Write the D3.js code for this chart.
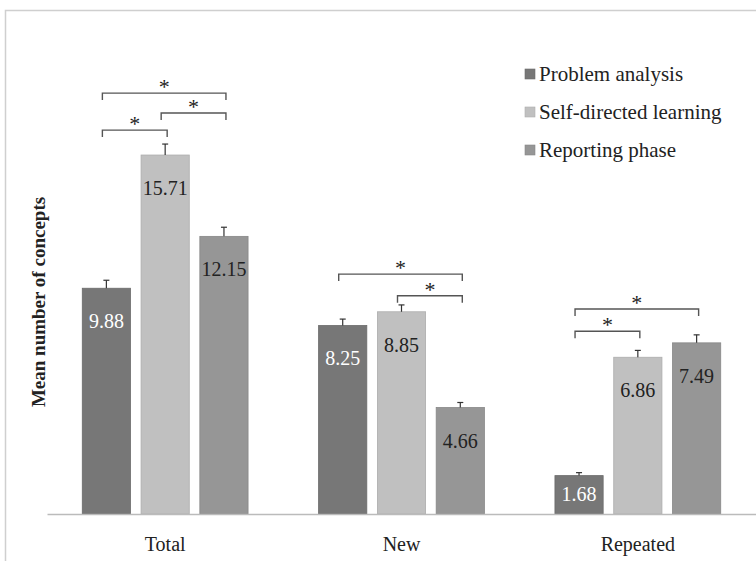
<!DOCTYPE html>
<html>
<head>
<meta charset="utf-8">
<script src="https://cdn.jsdelivr.net/npm/d3@7"></script>
<style>
  body { margin: 0; background: #fff; }
</style>
</head>
<body>
<div id="chart"></div>
<script>
// chart values
const categories = ['Total', 'New', 'Repeated'];
const series = ['Problem analysis', 'Self-directed learning', 'Reporting phase'];
const problemAnalysis = [9.88, 8.25, 1.68];
const selfDirected = [15.71, 8.85, 6.86];
const reporting = [12.15, 4.66, 7.49];
const errProblem = [0.35, 0.28, 0.13];
const errSelf = [0.48, 0.3, 0.3];
const errReporting = [0.4, 0.22, 0.35];

// significance brackets: group, from series, to series, height (in concepts)
const sigGroup = ['Total', 'Total', 'Total', 'New', 'New', 'Repeated', 'Repeated'];
const sigFrom = [0, 0, 1, 0, 1, 0, 0];
const sigTo = [2, 1, 2, 2, 2, 2, 1];
const sigLevel = [18.42, 16.8, 17.55, 10.5, 9.55, 8.97, 8.0];

const colors = ['#777777', '#c0c0c0', '#969696'];
const labelColors = ['#ffffff', '#222222', '#222222'];
const font = '"Liberation Serif", "Times New Roman", serif';

const values = [problemAnalysis, selfDirected, reporting];
const errors = [errProblem, errSelf, errReporting];

const data = [];
categories.forEach((c, i) => {
  series.forEach((s, j) => {
    data.push({ cat: c, s: s, si: j, value: values[j][i], err: errors[j][i] });
  });
});

const width = 756, height = 561;

const svg = d3.select('#chart')
  .append('svg')
  .attr('width', width)
  .attr('height', height)
  .attr('font-family', font)
  .style('display', 'block');

// frame (top and left edges are visible)
svg.append('path')
  .attr('d', `M5.5,${height} V10.5 H${width}`)
  .attr('fill', 'none')
  .attr('stroke', '#cfcfcf')
  .attr('stroke-width', 1.5);

const x0 = d3.scaleBand().domain(categories).range([47, 756]).paddingInner(0);
const x1 = d3.scaleBand().domain(series).range([0, x0.bandwidth()])
  .paddingInner(0.18).paddingOuter(0.6);
const y = d3.scaleLinear().domain([0, 20]).range([514, 57]);

// bars
svg.append('g')
  .selectAll('rect')
  .data(data)
  .enter()
  .append('rect')
  .attr('x', (d) => x0(d.cat) + x1(d.s))
  .attr('y', (d) => y(d.value))
  .attr('width', x1.bandwidth())
  .attr('height', (d) => y(0) - y(d.value))
  .attr('fill', (d) => colors[d.si])
  .attr('stroke', (d) => d3.color(colors[d.si]).darker(0.3))
  .attr('stroke-width', 0.8);

// error bars (upper only)
const eb = svg.append('g').attr('stroke', '#333').attr('stroke-width', 1.2);
data.forEach((d) => {
  const cx = x0(d.cat) + x1(d.s) + x1.bandwidth() / 2;
  eb.append('line')
    .attr('x1', cx).attr('x2', cx)
    .attr('y1', y(d.value)).attr('y2', y(d.value + d.err));
  eb.append('line')
    .attr('x1', cx - 3).attr('x2', cx + 3)
    .attr('y1', y(d.value + d.err)).attr('y2', y(d.value + d.err));
});

// value labels (inside end, kept inside short bars)
svg.append('g')
  .selectAll('text')
  .data(data)
  .enter()
  .append('text')
  .attr('x', (d) => x0(d.cat) + x1(d.s) + x1.bandwidth() / 2)
  .attr('y', (d) => Math.min(y(d.value) + 40, y(0) - 13))
  .attr('text-anchor', 'middle')
  .attr('font-family', font)
  .attr('font-size', 20)
  .attr('fill', (d) => labelColors[d.si])
  .text((d) => d.value.toFixed(2));

// significance brackets
const sig = svg.append('g');
sigGroup.forEach((g, i) => {
  const xa = x0(g) + x1(series[sigFrom[i]]) + x1.bandwidth() / 2 - 4;
  const xb = x0(g) + x1(series[sigTo[i]]) + x1.bandwidth() / 2 + 2;
  const yy = y(sigLevel[i]);
  sig.append('path')
    .attr('d', `M${xa},${yy + 7} V${yy} H${xb} V${yy + 7}`)
    .attr('fill', 'none')
    .attr('stroke', '#555')
    .attr('stroke-width', 1.4);
  sig.append('text')
    .attr('x', (xa + xb) / 2)
    .attr('y', yy + 1)
    .attr('text-anchor', 'middle')
    .attr('font-family', font)
    .attr('font-size', 22)
    .attr('fill', '#222')
    .text('*');
});

// x axis
const xAxis = svg.append('g')
  .attr('transform', `translate(0, ${y(0)})`)
  .call(d3.axisBottom(x0).tickSize(0).tickPadding(23))
  .attr('font-family', font);
xAxis.select('.domain').attr('stroke', '#bbbbbb').attr('stroke-width', 1.5);
xAxis.selectAll('text')
  .attr('font-family', font)
  .attr('font-size', 20)
  .attr('fill', '#222');

// y axis title
svg.append('text')
  .attr('transform', `translate(45, ${(y(0) + 90) / 2}) rotate(-90)`)
  .attr('text-anchor', 'middle')
  .attr('font-family', font)
  .attr('font-size', 19)
  .attr('font-weight', 'bold')
  .attr('fill', '#222')
  .text('Mean number of concepts');

// legend
const legend = svg.append('g').attr('transform', 'translate(525, 75)');
series.forEach((s, i) => {
  const row = legend.append('g').attr('transform', `translate(0, ${i * 38})`);
  row.append('rect')
    .attr('x', 0).attr('y', -6)
    .attr('width', 10).attr('height', 10)
    .attr('fill', colors[i])
    .attr('stroke', d3.color(colors[i]).darker(0.3))
    .attr('stroke-width', 0.6);
  row.append('text')
    .attr('x', 14)
    .attr('y', 6)
    .attr('font-family', font)
    .attr('font-size', 21)
    .attr('fill', '#222')
    .text(s);
});
</script>
</body>
</html>
